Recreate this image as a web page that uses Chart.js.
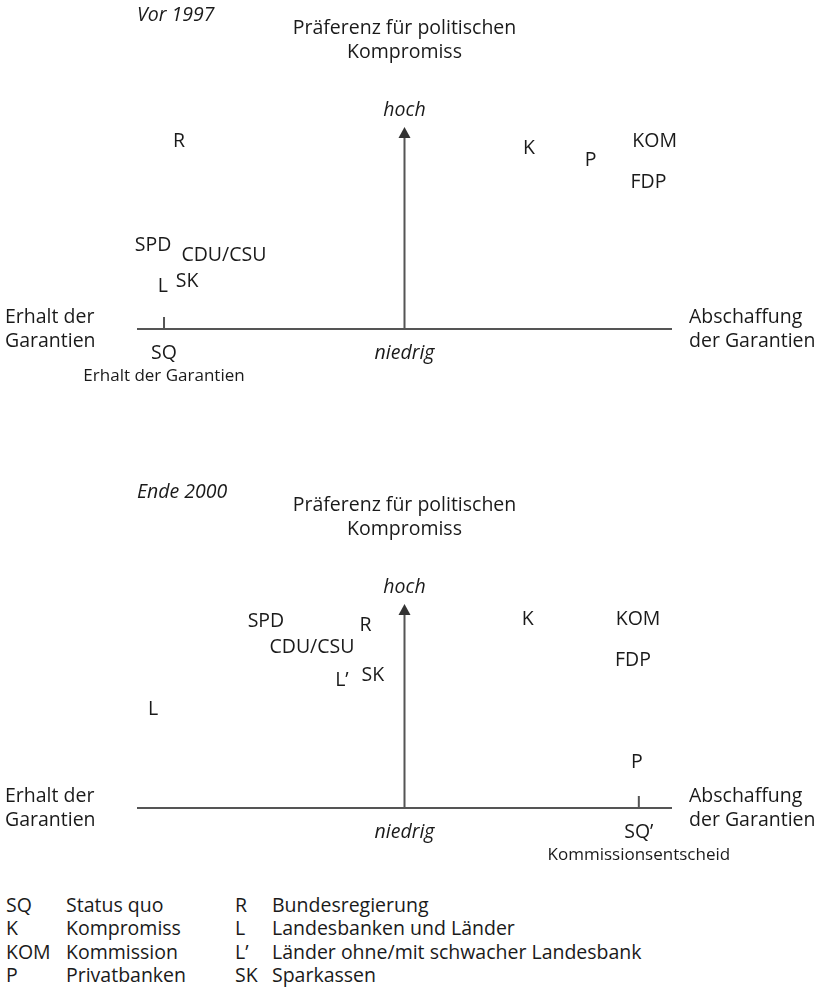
<!DOCTYPE html>
<html>
<head>
<meta charset="utf-8">
<script src="https://cdn.jsdelivr.net/npm/chart.js@4.4.1/dist/chart.umd.min.js"></script>
<style>
  body { margin: 0; background: #fff; font-family: "Open Sans", sans-serif; color: #1a1a1a; }
  canvas { position: absolute; left: 0; }
  #c1 { top: 0; }
  #c2 { top: 470px; }
  .col { position: absolute; top: 893px; font-size: 19.5px; line-height: 23.4px; white-space: nowrap; }
</style>
</head>
<body>
<canvas id="c1" width="825" height="460"></canvas>
<canvas id="c2" width="825" height="400"></canvas>
<div class="col" id="abbrA" style="left:6px"></div>
<div class="col" id="textA" style="left:66px"></div>
<div class="col" id="abbrB" style="left:235px"></div>
<div class="col" id="textB" style="left:272px"></div>
<script>
// x: -100 = Erhalt der Garantien, 100 = Abschaffung; y: 0 = niedrig, 100 = hoch
const labels1997 = ['R', 'SPD', 'CDU/CSU', 'L', 'SK', 'K', 'P', 'KOM', 'FDP'];
const x1997 = [-84.3, -94.0, -67.5, -90.3, -81.3, 46.5, 69.6, 93.5, 91.2];
const y1997 = [92.8, 41.6, 36.3, 21.3, 23.4, 89.6, 83.2, 92.7, 72.8];
const sq1997 = -89.9;

const labels2000 = ['SPD', 'R', 'CDU/CSU', 'L’', 'SK', 'L', 'K', 'KOM', 'FDP', 'P'];
const x2000 = [-51.8, -14.6, -34.6, -23.4, -11.8, -94.0, 46.1, 87.3, 85.4, 86.9];
const y2000 = [91.3, 89.7, 78.9, 62.7, 65.2, 48.5, 92.6, 92.6, 72.5, 22.2];
const sq2000 = 87.6;

const legendAbbrA = ['SQ', 'K', 'KOM', 'P'];
const legendTextA = ['Status quo', 'Kompromiss', 'Kommission', 'Privatbanken'];
const legendAbbrB = ['R', 'L', 'L’', 'SK'];
const legendTextB = ['Bundesregierung', 'Landesbanken und Länder', 'Länder ohne/mit schwacher Landesbank', 'Sparkassen'];

const FONT = '"Open Sans", sans-serif';
const INK = '#1a1a1a';
const AXIS = '#555';

const diagram = {
  id: 'diagram',
  afterDatasetsDraw(chart, args, o) {
    const ctx = chart.ctx;
    const a = chart.chartArea;
    const xs = chart.scales.x;
    const x0 = xs.getPixelForValue(0);
    const sx = xs.getPixelForValue(o.sq);
    ctx.save();
    // axes
    ctx.strokeStyle = AXIS;
    ctx.lineWidth = 2;
    ctx.beginPath();
    ctx.moveTo(a.left, a.bottom);
    ctx.lineTo(a.right, a.bottom);
    ctx.moveTo(x0, a.bottom);
    ctx.lineTo(x0, a.top + 9);
    ctx.moveTo(sx, a.bottom);
    ctx.lineTo(sx, a.bottom - 12);
    ctx.stroke();
    ctx.fillStyle = '#333';
    ctx.beginPath();
    ctx.moveTo(x0, a.top);
    ctx.lineTo(x0 - 6, a.top + 11);
    ctx.lineTo(x0 + 6, a.top + 11);
    ctx.closePath();
    ctx.fill();

    ctx.fillStyle = INK;
    ctx.textBaseline = 'middle';
    // point labels
    ctx.font = '19.5px ' + FONT;
    ctx.textAlign = 'center';
    chart.getDatasetMeta(0).data.forEach((el, i) => {
      ctx.fillText(chart.data.datasets[0].data[i].label, el.x, el.y);
    });
    // axis titles
    ctx.fillText('Präferenz für politischen', x0, a.top - 99);
    ctx.fillText('Kompromiss', x0, a.top - 75);
    ctx.fillText(o.sqLabel, sx, a.bottom + 24);
    ctx.textAlign = 'left';
    ctx.fillText('Erhalt der', 5, a.bottom - 12);
    ctx.fillText('Garantien', 5, a.bottom + 12);
    ctx.fillText('Abschaffung', a.right + 17, a.bottom - 12);
    ctx.fillText('der Garantien', a.right + 17, a.bottom + 12);
    ctx.font = 'italic 19.5px ' + FONT;
    ctx.fillText(o.title, a.left, a.top - 112);
    ctx.textAlign = 'center';
    ctx.fillText('hoch', x0, a.top - 17);
    ctx.fillText('niedrig', x0, a.bottom + 24);
    ctx.font = '17px ' + FONT;
    ctx.fillText(o.sqNote, sx, a.bottom + 47);
    ctx.restore();
  }
};

function panel(id, labels, xs, ys, pad, extra) {
  return new Chart(document.getElementById(id), {
    type: 'scatter',
    data: {
      datasets: [{
        data: xs.map((x, i) => ({ x: x, y: ys[i], label: labels[i] })),
        pointRadius: 0
      }]
    },
    options: {
      responsive: false,
      animation: false,
      layout: { padding: { left: 137, right: 153, top: pad[0], bottom: pad[1] } },
      scales: {
        x: { display: false, min: -100, max: 100 },
        y: { display: false, min: 0, max: 100 }
      },
      plugins: { legend: { display: false }, tooltip: { enabled: false }, diagram: extra }
    },
    plugins: [diagram]
  });
}

panel('c1', labels1997, x1997, y1997, [127, 131],
  { title: 'Vor 1997', sq: sq1997, sqLabel: 'SQ', sqNote: 'Erhalt der Garantien' });
panel('c2', labels2000, x2000, y2000, [134, 62],
  { title: 'Ende 2000', sq: sq2000, sqLabel: 'SQ’', sqNote: 'Kommissionsentscheid' });

document.getElementById('abbrA').innerHTML = legendAbbrA.join('<br>');
document.getElementById('textA').innerHTML = legendTextA.join('<br>');
document.getElementById('abbrB').innerHTML = legendAbbrB.join('<br>');
document.getElementById('textB').innerHTML = legendTextB.join('<br>');
</script>
</body>
</html>
